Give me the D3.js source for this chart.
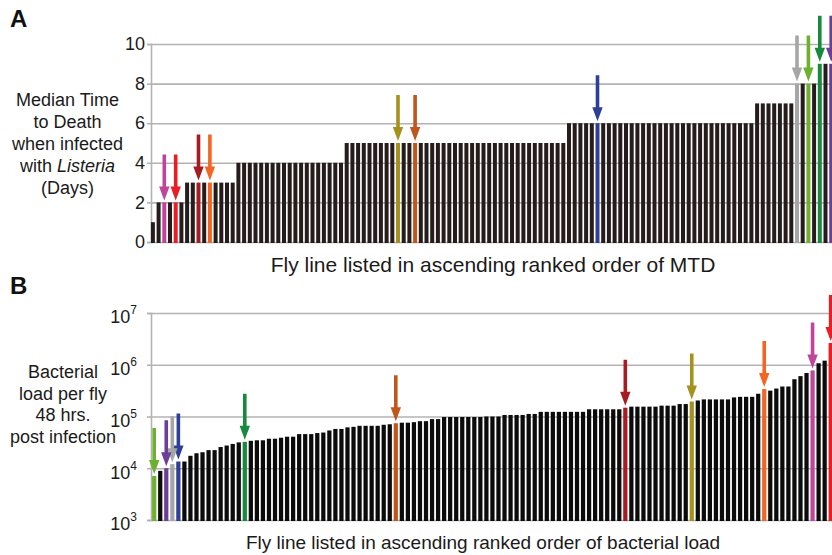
<!DOCTYPE html>
<html>
<head>
<meta charset="utf-8">
<script src="https://cdn.jsdelivr.net/npm/d3@7"></script>
<style>
  body { margin: 0; background: #ffffff; }
  svg { display: block; font-family: "Liberation Sans", Arial, Helvetica, sans-serif; }
</style>
</head>
<body>
<script>

// median time to death (days) per fly line, ranked
var mtdDays = [
  1,
  2, 2, 2, 2, 2,
  3, 3, 3, 3, 3, 3, 3, 3, 3,
  4, 4, 4, 4, 4, 4, 4, 4, 4, 4, 4, 4, 4, 4, 4, 4, 4, 4, 4,
  5, 5, 5, 5, 5, 5, 5, 5, 5, 5, 5, 5, 5, 5, 5, 5, 5, 5, 5, 5,
  5, 5, 5, 5, 5, 5, 5, 5, 5, 5, 5, 5, 5, 5, 5, 5, 5, 5, 5,
  6, 6, 6, 6, 6, 6, 6, 6, 6, 6, 6, 6, 6, 6, 6, 6, 6,
  6, 6, 6, 6, 6, 6, 6, 6, 6, 6, 6, 6, 6, 6, 6, 6,
  7, 7, 7, 7, 7, 7, 7,
  8, 8, 8, 8,
  9, 9, 9
];

// bacterial load per fly 48 hrs post infection, ranked
var bacterialLoad = [
  7.1e3, 8.9e3, 1.0e4, 1.2e4, 1.35e4, 1.35e4, 1.74e4, 1.95e4, 2.04e4, 2.24e4,
  2.24e4, 2.57e4, 2.75e4, 2.95e4, 3.16e4, 3.24e4, 3.39e4, 3.47e4, 3.47e4, 3.72e4,
  3.72e4, 3.89e4, 4.07e4, 4.07e4, 4.57e4, 4.57e4, 4.57e4, 4.79e4, 4.9e4, 5.37e4,
  5.75e4, 5.75e4, 6.17e4, 6.31e4, 6.61e4, 6.61e4, 6.61e4, 6.61e4, 6.92e4, 7.08e4,
  7.41e4, 7.59e4, 7.59e4, 7.76e4, 8.13e4, 8.13e4, 8.91e4, 8.91e4, 9.77e4, 9.77e4,
  9.77e4, 9.77e4, 9.77e4, 9.77e4, 9.77e4, 1.0e5, 1.0e5, 1.0e5, 1.07e5, 1.07e5,
  1.07e5, 1.07e5, 1.12e5, 1.12e5, 1.23e5, 1.23e5, 1.23e5, 1.23e5, 1.23e5, 1.23e5,
  1.23e5, 1.23e5, 1.38e5, 1.38e5, 1.38e5, 1.38e5, 1.38e5, 1.38e5, 1.48e5, 1.55e5,
  1.55e5, 1.55e5, 1.55e5, 1.55e5, 1.62e5, 1.62e5, 1.62e5, 1.74e5, 1.74e5, 1.95e5,
  2.04e5, 2.14e5, 2.14e5, 2.14e5, 2.14e5, 2.14e5, 2.34e5, 2.4e5, 2.4e5, 2.4e5,
  2.75e5, 3.39e5, 3.16e5, 3.47e5, 3.8e5, 3.8e5, 5.25e5, 6.03e5, 6.92e5, 7.76e5,
  1.07e6, 1.2e6, 2.63e6
];

var mtdTicks = [0, 2, 4, 6, 8, 10];
var loadTicks = [1e3, 1e4, 1e5, 1e6, 1e7];
var loadExponents = ["3", "4", "5", "6", "7"];

// highlighted fly lines: colour, rank in panel A, rank in panel B
var lineColors = ["#c0449b", "#ec1c24", "#a71c20", "#f26522", "#a6901e", "#c1561b",
                  "#2e3f98", "#a6a6a6", "#6cb22e", "#188a3e", "#6b3f98"];
var mtdRank = [2, 4, 8, 10, 43, 46, 78, 113, 115, 117, 119];
var loadRank = [109, 112, 78, 101, 89, 40, 4, 3, 0, 15, 2];

var width = 832;
var height = 555;
var axisX = 151;

var svg = d3.select("body")
            .append("svg")
            .attr("width", width)
            .attr("height", height);

// colour lookup for a bar
function barColor(i, ranks, base) {
  var k = ranks.indexOf(i);
  return k >= 0 ? lineColors[k] : base;
}

// downward arrow, tip at (0,0)
var arrowPath = "M-1.8,-46 L1.8,-46 L1.8,-14 L5.2,-14 L0,0 L-5.2,-14 L-1.8,-14 Z";

function drawPanel(cfg) {
  var g = svg.append("g");

  // gridlines
  g.append("g")
   .attr("transform", "translate(" + axisX + ",0)")
   .call(d3.axisLeft(cfg.y).tickValues(cfg.ticks).tickSize(-(width - axisX)).tickFormat(""))
   .call(function(s) {
     s.select(".domain").remove();
     s.selectAll("line").attr("stroke", "#b3b3b3").attr("stroke-width", 1.6);
   });

  // tick marks and vertical axis
  var ax = g.append("g")
            .attr("transform", "translate(" + axisX + ",0)")
            .call(d3.axisLeft(cfg.y).tickValues(cfg.ticks).tickSize(4).tickPadding(cfg.pad).tickFormat(cfg.format));
  ax.select(".domain").attr("stroke", "#b3b3b3").attr("stroke-width", 1.6);
  ax.selectAll(".tick line").attr("stroke", "#b3b3b3").attr("stroke-width", 1.6);
  ax.selectAll(".tick text")
    .attr("font-size", 18)
    .attr("fill", "#1a1a1a")
    .attr("font-family", "Liberation Sans, Arial, sans-serif");
  if (cfg.after) cfg.after(ax);

  // bars
  g.selectAll("rect.bar")
   .data(cfg.values)
   .enter()
   .append("rect")
   .attr("class", "bar")
   .attr("x", function(d, i) { return cfg.x(i); })
   .attr("width", cfg.x.bandwidth())
   .attr("y", function(d) { return cfg.y(d); })
   .attr("height", function(d) { return cfg.y0 - cfg.y(d) + 1; })
   .attr("fill", function(d, i) { return barColor(i, cfg.ranks, cfg.barFill); });

  // arrows
  g.selectAll("path.arrow")
   .data(cfg.ranks)
   .enter()
   .append("path")
   .attr("class", "arrow")
   .attr("d", arrowPath)
   .attr("fill", function(d, k) { return lineColors[k]; })
   .attr("transform", function(d) {
     return "translate(" + (cfg.x(d) + cfg.x.bandwidth() / 2) + "," + (cfg.y(cfg.values[d]) - 2) + ")";
   });

  // y title
  var t = g.append("text")
           .attr("text-anchor", "middle")
           .attr("font-size", 18)
           .attr("fill", "#1a1a1a");
  cfg.title.forEach(function(line, i) {
    var ts = t.append("tspan")
              .attr("x", cfg.titleX)
              .attr("y", cfg.titleY + i * cfg.lineH);
    line.forEach(function(part) {
      ts.append("tspan").attr("font-style", part[1] ? "italic" : null).text(part[0]);
    });
  });

  // x title
  g.append("text")
   .attr("x", cfg.xTitleX)
   .attr("y", cfg.xTitleY)
   .attr("text-anchor", "middle")
   .attr("font-size", cfg.xTitleSize)
   .attr("fill", "#1a1a1a")
   .text(cfg.xTitle);

  // panel letter
  g.append("text")
   .attr("x", 10)
   .attr("y", cfg.letterY)
   .attr("font-size", 24)
   .attr("font-weight", "bold")
   .attr("fill", "#111")
   .text(cfg.letter);
}

// panel A
var xA = d3.scaleBand()
           .domain(d3.range(mtdDays.length))
           .range([150.05, 150.05 + mtdDays.length * 5.7])
           .paddingInner(0.3)
           .paddingOuter(0.15);
var yA = d3.scaleLinear().domain([0, 10]).range([242, 44]);

drawPanel({
  x: xA, y: yA, y0: 242, values: mtdDays, ticks: mtdTicks, ranks: mtdRank,
  barFill: "#261c1b", pad: 2, format: d3.format("d"),
  title: [[["Median Time", false]], [["to Death", false]], [["when infected", false]],
          [["with ", false], ["Listeria", true]], [["(Days)", false]]],
  titleX: 67.5, titleY: 106, lineH: 22,
  xTitle: "Fly line listed in ascending ranked order of MTD", xTitleX: 493, xTitleY: 272, xTitleSize: 21,
  letter: "A", letterY: 27
});

// panel B
var xB = d3.scaleBand()
           .domain(d3.range(bacterialLoad.length))
           .range([151.18, 151.18 + bacterialLoad.length * 6.04])
           .paddingInner(0.3)
           .paddingOuter(0.15);
var yB = d3.scaleLog().domain([1e3, 1e7]).range([520, 313]);

drawPanel({
  x: xB, y: yB, y0: 520, values: bacterialLoad, ticks: loadTicks, ranks: loadRank,
  barFill: "#0b0b0b", pad: 10, format: function() { return "10"; },
  after: function(ax) {
    ax.selectAll(".tick text")
      .attr("dy", "0.55em")
      .each(function(d, i) {
        d3.select(this).append("tspan")
          .attr("font-size", 12)
          .attr("dy", "-0.75em")
          .text(loadExponents[i]);
      });
  },
  title: [[["Bacterial", false]], [["load per fly", false]], [["48 hrs.", false]], [["post infection", false]]],
  titleX: 63, titleY: 378, lineH: 21.7,
  xTitle: "Fly line listed in ascending ranked order of bacterial load", xTitleX: 483, xTitleY: 549, xTitleSize: 19,
  letter: "B", letterY: 294
});

</script>
</body>
</html>
